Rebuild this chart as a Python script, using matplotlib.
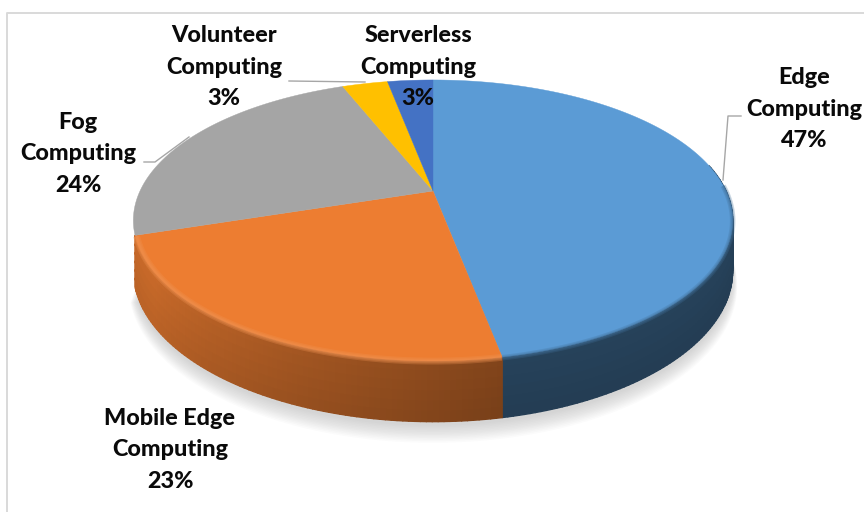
import numpy as np
import matplotlib
matplotlib.use("Agg")
import matplotlib.pyplot as plt
from matplotlib.collections import PolyCollection
from matplotlib.colors import to_rgb

# Share of publications by computing paradigm, clockwise from twelve o'clock
names = ["Edge\nComputing", "Mobile Edge\nComputing", "Fog\nComputing",
         "Volunteer\nComputing", "Serverless\nComputing"]
shares = [47, 23, 24, 3, 3]
colors = ["#5b9bd5", "#ed7d31", "#a5a5a5", "#ffc000", "#4472c4"]
label_centers = [(804, 109), (170, 450), (78, 154), (224, 67), (418, 67)]

W, H = 864, 512
CX, CY = 433, 191
RX, RY = 293, 134.3
PERSP = 0.2096
DEPTH = 48


def project(theta, radius=1.0, drop=0.0):
    """Map a point of the tilted disc to canvas coordinates with foreshortening."""
    u, v = radius * np.sin(theta), radius * np.cos(theta)
    s = 1 / (1 + PERSP * v)
    return CX + RX * u * s, CY - RY * v * s + drop * s


def shade(color, f):
    c = np.array(to_rgb(color))
    return tuple(np.clip(c * f, 0, 1)) if f <= 1 else tuple(c + (1 - c) * (f - 1))


fig = plt.figure(figsize=(W / 100, H / 100), dpi=100)
ax = fig.add_axes([0, 0, 1, 1])
ax.set_xlim(0, W)
ax.set_ylim(H, 0)
ax.axis("off")

# Chart frame: only the top and left rules fall inside the canvas
ax.plot([7, 7, W], [H, 13, 13], color="#d9d9d9", lw=1.4, zorder=0)

edges = np.cumsum([0] + shares) / sum(shares) * 2 * np.pi

# Soft cast shadow under the front half of the disc
front = np.linspace(edges[0] + 0.5 * np.pi, edges[2], 160)
for k in range(12):
    x, y = project(front, 1.0 + 0.0012 * (12 - k), DEPTH + 2 + 1.0 * (12 - k))
    ax.fill(x, y, color="#8a8a8a", alpha=0.03, lw=0, zorder=1)

# Rim of the front slices, darkening away from the top edge and toward the right
quads, quad_colors = [], []
for i, col in enumerate(colors[:2]):
    t = np.linspace(edges[i], edges[i + 1], max(6, int(shares[i] * 4)))
    for a, b in zip(t[:-1], t[1:]):
        mid = (a + b) / 2
        if np.cos(mid) > 0.2:
            continue
        xa0, ya0 = project(a)
        xb0, yb0 = project(b)
        xa1, ya1 = project(a, drop=DEPTH)
        xb1, yb1 = project(b, drop=DEPTH)
        levels = np.linspace(0, 1, 7)
        for l0, l1 in zip(levels[:-1], levels[1:]):
            quads.append([(xa0 + (xa1 - xa0) * l0, ya0 + (ya1 - ya0) * l0),
                          (xb0 + (xb1 - xb0) * l0, yb0 + (yb1 - yb0) * l0),
                          (xb0 + (xb1 - xb0) * l1, yb0 + (yb1 - yb0) * l1),
                          (xa0 + (xa1 - xa0) * l1, ya0 + (ya1 - ya0) * l1)])
            if i == 0:
                f = 0.42
            else:
                # Orange lit from the left, falling to brown at the seam with blue
                f = 0.84 - 0.30 * np.clip((np.pi * 1.32 - mid) / (np.pi * 0.38), 0, 1)
            quad_colors.append(shade(col, f * (1.02 - 0.08 * l1)))
ax.add_collection(PolyCollection(quads, facecolors=quad_colors, edgecolors=quad_colors,
                                 linewidths=1.0, zorder=2))

# Top face of each slice
for i, col in enumerate(colors):
    t = np.linspace(edges[i], edges[i + 1], 200)
    x, y = project(t)
    ax.fill(np.r_[CX, x], np.r_[CY, y], color=col, lw=0.3, zorder=3)

# Bright lip where the orange face rolls over into the rim
t = np.linspace(edges[1], edges[2], 200)
t = t[np.cos(t) < 0.0]
for width in [5.0, 3.2, 1.6]:
    x, y = project(t, radius=0.995, drop=1.0)
    ax.plot(x, y, color=shade(colors[1], 1.16), lw=width, alpha=0.3, zorder=4,
            solid_capstyle="butt")
# Blue face blurs softly into its dark rim
t = np.linspace(edges[0], edges[1], 200)
t = t[np.cos(t) < 0.05]
for width in [4.0, 2.4, 1.2]:
    x, y = project(t, drop=0.5)
    ax.plot(x, y, color=shade(colors[0], 0.72), lw=width, alpha=0.28, zorder=4,
            solid_capstyle="butt")

# Leader lines from the labels to their slices
leaders = [([741, 728, 723], [116, 116, 180]),
           ([144, 155, 189], [162, 162, 137]),
           ([289, 365], [81, 82])]
for lx, ly in leaders:
    ax.plot(lx, ly, color="#a6a6a6", lw=1.0, zorder=5)

for name, share, (tx, ty) in zip(names, shares, label_centers):
    ax.text(tx, ty, f"{name}\n{share}%", ha="center", va="center", ma="center",
            family="Lato", weight="black", fontsize=16.8, color="#0a0a0a",
            linespacing=1.6, zorder=6)

fig.savefig("out.png", dpi=100)
